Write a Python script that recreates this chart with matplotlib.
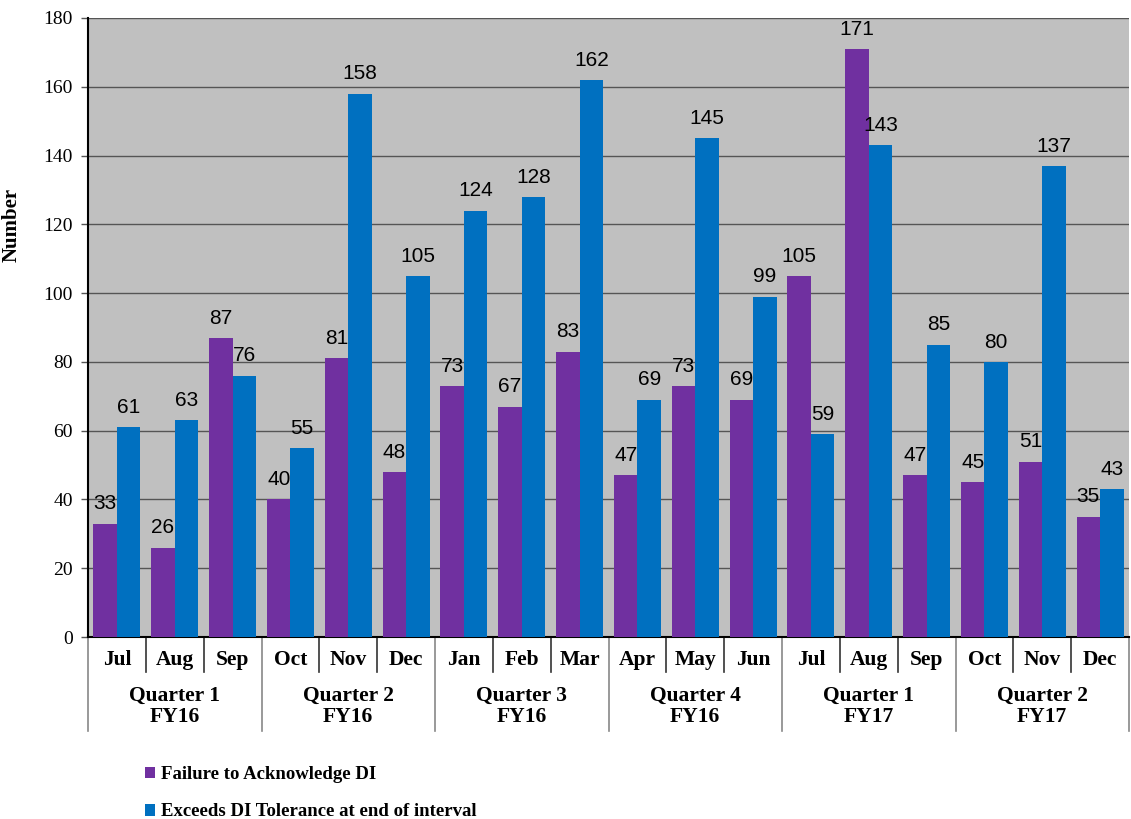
import numpy as np
import matplotlib.pyplot as plt
import matplotlib.transforms as mtransforms

months = ['Jul', 'Aug', 'Sep', 'Oct', 'Nov', 'Dec', 'Jan', 'Feb', 'Mar',
          'Apr', 'May', 'Jun', 'Jul', 'Aug', 'Sep', 'Oct', 'Nov', 'Dec']
quarters = ['Quarter 1\nFY16', 'Quarter 2\nFY16', 'Quarter 3\nFY16',
            'Quarter 4\nFY16', 'Quarter 1\nFY17', 'Quarter 2\nFY17']
failure = [33, 26, 87, 40, 81, 48, 73, 67, 83, 47, 73, 69, 105, 171, 47, 45, 51, 35]
exceeds = [61, 63, 76, 55, 158, 105, 124, 128, 162, 69, 145, 99, 59, 143, 85, 80, 137, 43]

purple = '#7030A0'
blue = '#0070C0'
serif = 'Liberation Serif'
sans = 'Liberation Sans'

fig = plt.figure(figsize=(11.31, 8.19), dpi=100)
ax = fig.add_axes([88 / 1131, 1 - 637 / 819, 1041 / 1131, 619 / 819])
ax.set_facecolor('#C0C0C0')

x = np.arange(len(months))
w = 0.405
b1 = ax.bar(x - w / 2, failure, w, color=purple, label='Failure to Acknowledge DI', zorder=3)
b2 = ax.bar(x + w / 2, exceeds, w, color=blue, label='Exceeds DI Tolerance at end of interval', zorder=3)

for bars, vals in [(b1, failure), (b2, exceeds)]:
    for r, v in zip(bars, vals):
        ax.text(r.get_x() + r.get_width() / 2, v + 3, str(v), ha='center', va='bottom',
                fontsize=15, family=sans, zorder=4)

ax.set_xlim(-0.5, len(months) - 0.5)
ax.set_ylim(0, 180)
ax.set_yticks(range(0, 181, 20))
ax.yaxis.grid(True, color='#555555', linewidth=1, zorder=1)
for lab in ax.get_yticklabels():
    lab.set_family(serif)
    lab.set_fontsize(14)
ax.tick_params(axis='y', length=5, width=1, color='#555555', pad=6)
ax.set_xticks([])
for s in ['top', 'right']:
    ax.spines[s].set_visible(False)
ax.spines['left'].set_color('black')
ax.spines['left'].set_linewidth(1.5)
ax.spines['bottom'].set_color('black')
ax.spines['bottom'].set_linewidth(1.5)

ax.set_ylabel('Number', family=serif, fontsize=15, fontweight='bold')
ax.yaxis.set_label_coords(-0.064, 0.665)

trans = mtransforms.blended_transform_factory(ax.transData, ax.transAxes)
for i in range(len(months) + 1):
    xs = i - 0.5
    depth = -0.152 if i % 3 == 0 else -0.057
    col = '#888888' if i % 3 == 0 else '#333333'
    ax.plot([xs, xs], [0, depth], transform=trans, color=col, linewidth=1.2, clip_on=False)
for i, m in enumerate(months):
    ax.text(i, -0.037, m, transform=trans, ha='center', va='center',
            family=serif, fontsize=15.5, fontweight='bold')
for j, q in enumerate(quarters):
    ax.text(3 * j + 1, -0.112, q, transform=trans, ha='center', va='center',
            family=serif, fontsize=15.5, fontweight='bold', linespacing=1.05)

fig.legend(handles=[b1, b2], loc='upper left', bbox_to_anchor=(128 / 1131, 1 - 749 / 819),
           frameon=False, handlelength=0.55, handleheight=0.55, handletextpad=0.3,
           labelspacing=1.1, prop={'family': serif, 'weight': 'bold', 'size': 13.5})

fig.savefig('out.png', dpi=100)
